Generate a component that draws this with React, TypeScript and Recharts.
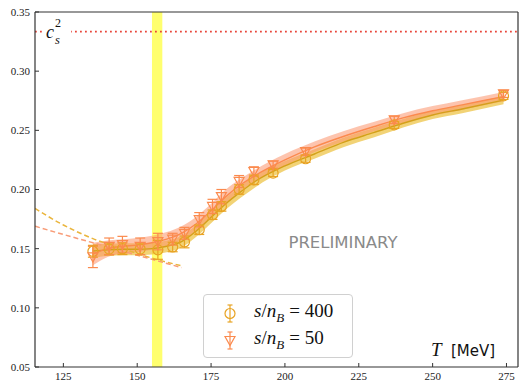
import React from "react";
import {
  Area,
  ComposedChart,
  ErrorBar,
  Line,
  ReferenceArea,
  ReferenceLine,
  Scatter,
  XAxis,
  YAxis,
} from "recharts";

const W = 519;
const H = 381;
const AXIS = "#333";
const SERIF = "'Liberation Serif', 'DejaVu Serif', serif";
const SANS = "'DejaVu Sans', sans-serif";

const GOLD = "#e8a323";
const GOLD_LINE = "#d4a01a";
const GOLD_BAND = "#ecc13c";
const ORANGE = "#fb8a4e";
const ORANGE_BAND = "#fc946c";
const DASH_GOLD = "#eab53c";
const DASH_ORANGE = "#f89c78";

// axes
const X_DOMAIN: [number, number] = [115.4, 278.9];
const Y_DOMAIN: [number, number] = [0.05, 0.35];
const xTicks = [125, 150, 175, 200, 225, 250, 275];
const yTicks = [0.05, 0.1, 0.15, 0.2, 0.25, 0.3, 0.35];

// conformal limit and pseudo-critical band
const CS2_LIMIT = 1 / 3;
const TPC_LOW = 155;
const TPC_HIGH = 158.5;

// lattice points
const temps = [135, 140.5, 145, 151, 157, 162, 166, 171, 175.5, 178.5, 184.5, 189.5, 196, 207, 237, 274];
const cs2_400 = [0.1478, 0.1497, 0.15, 0.1497, 0.149, 0.1514, 0.1557, 0.166, 0.1787, 0.1857, 0.2, 0.2082, 0.2139, 0.226, 0.2546, 0.2791];
const err_400 = [0.005, 0.005, 0.005, 0.005, 0.008, 0.004, 0.005, 0.004, 0.004, 0.004, 0.004, 0.004, 0.003, 0.003, 0.003, 0.003];
const cs2_50 = [0.143, 0.152, 0.1534, 0.152, 0.156, 0.158, 0.163, 0.1745, 0.1857, 0.194, 0.2068, 0.2152, 0.2209, 0.232, 0.2589, 0.2808];
const err_50 = [0.009, 0.007, 0.007, 0.007, 0.007, 0.005, 0.005, 0.006, 0.006, 0.006, 0.005, 0.004, 0.003, 0.003, 0.003, 0.003];

// fits (centre line and half width of the band)
const fitT = [135, 140, 145, 150, 155, 160, 165, 170, 175, 180, 185, 190, 200, 210, 220, 230, 240, 250, 260, 274];
const fit400 = [0.148, 0.149, 0.1495, 0.1495, 0.15, 0.152, 0.156, 0.165, 0.1765, 0.188, 0.198, 0.207, 0.22, 0.23, 0.24, 0.248, 0.256, 0.263, 0.268, 0.2755];
const fit400w = [0.006, 0.005, 0.005, 0.005, 0.005, 0.005, 0.005, 0.005, 0.005, 0.005, 0.005, 0.005, 0.004, 0.004, 0.004, 0.004, 0.0035, 0.0035, 0.0035, 0.0035];
const fit50 = [0.1455, 0.15, 0.152, 0.153, 0.155, 0.158, 0.163, 0.171, 0.182, 0.194, 0.204, 0.212, 0.225, 0.236, 0.245, 0.253, 0.2605, 0.2665, 0.2715, 0.2785];
const fit50w = [0.0095, 0.007, 0.006, 0.006, 0.006, 0.006, 0.006, 0.006, 0.006, 0.006, 0.005, 0.005, 0.005, 0.0045, 0.0045, 0.004, 0.004, 0.004, 0.004, 0.004];

// low-T extrapolations (dashed)
const extT = [115.4, 125, 135, 145, 155, 165];
const ext400 = [0.184, 0.17, 0.1585, 0.15, 0.142, 0.1355];
const ext50 = [0.169, 0.162, 0.155, 0.148, 0.141, 0.134];

const pts400 = temps.map((T, i) => ({ T, v: cs2_400[i], e: err_400[i] }));
const pts50 = temps.map((T, i) => ({ T, v: cs2_50[i], e: err_50[i] }));
const band400 = fitT.map((T, i) => ({ T, c: fit400[i], r: [fit400[i] - fit400w[i], fit400[i] + fit400w[i]] }));
const band50 = fitT.map((T, i) => ({ T, c: fit50[i], r: [fit50[i] - fit50w[i], fit50[i] + fit50w[i]] }));
const dash400 = extT.map((T, i) => ({ T, c: ext400[i] }));
const dash50 = extT.map((T, i) => ({ T, c: ext50[i] }));

function BottomTick({ x, y, payload }: any) {
  const ay = y - 5;
  return (
    <g>
      <line x1={x} x2={x} y1={ay} y2={ay - 4} stroke={AXIS} />
      <text x={x} y={y} dy="0.71em" textAnchor="middle" fontSize={11} fontFamily={SERIF} fill="#222">
        {payload.value}
      </text>
    </g>
  );
}

function LeftTick({ x, y, payload }: any) {
  const ax = x + 5;
  return (
    <g>
      <line x1={ax} x2={ax + 4} y1={y} y2={y} stroke={AXIS} />
      <text x={x} y={y} dy="0.355em" textAnchor="end" fontSize={11} fontFamily={SERIF} fill="#222">
        {Number(payload.value).toFixed(2)}
      </text>
    </g>
  );
}

function OpenCircle({ cx, cy }: any) {
  return <circle cx={cx} cy={cy} r={5} fill="none" stroke={GOLD} strokeWidth={1.2} />;
}

function OpenTriangle({ cx, cy }: any) {
  return (
    <polygon
      points={`${cx - 5},${cy - 4} ${cx + 5},${cy - 4} ${cx},${cy + 5}`}
      fill="none"
      stroke={ORANGE}
      strokeWidth={1.2}
    />
  );
}

function LegendLabel({ value }: { value: string }) {
  return (
    <span style={{ fontFamily: SERIF, fontSize: 19, color: "#111", whiteSpace: "nowrap" }}>
      <i>s</i>/<i>n</i>
      <sub style={{ fontSize: 13 }}>
        <i>B</i>
      </sub>
      <span style={{ padding: "0 5px" }}>=</span>
      {value}
    </span>
  );
}

function LegendBox() {
  const row = { position: "absolute" as const, left: 0, height: 24, display: "flex", alignItems: "center" };
  return (
    <div
      style={{
        position: "absolute",
        left: 203,
        top: 294,
        width: 148,
        height: 62,
        border: "1px solid #d0d0d0",
        borderRadius: 4,
        background: "rgba(255,255,255,0.85)",
      }}
    >
      <div style={{ ...row, top: 5.5 }}>
        <svg width={50} height={24}>
          <line x1={26} x2={26} y1={4} y2={21} stroke={GOLD} strokeWidth={1.2} />
          <line x1={23.5} x2={28.5} y1={4} y2={4} stroke={GOLD} strokeWidth={1.2} />
          <line x1={23.5} x2={28.5} y1={21} y2={21} stroke={GOLD} strokeWidth={1.2} />
          <circle cx={26} cy={12.5} r={5} fill="none" stroke={GOLD} strokeWidth={1.2} />
        </svg>
        <LegendLabel value="400" />
      </div>
      <div style={{ ...row, top: 33 }}>
        <svg width={50} height={24}>
          <line x1={26} x2={26} y1={4} y2={21} stroke={ORANGE} strokeWidth={1.2} />
          <line x1={23.5} x2={28.5} y1={4} y2={4} stroke={ORANGE} strokeWidth={1.2} />
          <line x1={23.5} x2={28.5} y1={21} y2={21} stroke={ORANGE} strokeWidth={1.2} />
          <polygon points="21,8.5 31,8.5 26,17.5" fill="none" stroke={ORANGE} strokeWidth={1.2} />
        </svg>
        <LegendLabel value="50" />
      </div>
    </div>
  );
}

export default function App() {
  return (
    <div style={{ position: "absolute", left: 0, top: 0, width: W, height: H, background: "#fff" }}>
      <ComposedChart width={W} height={H} margin={{ top: 12, right: 1, bottom: 0, left: 0 }}>
        <XAxis
          dataKey="T"
          type="number"
          domain={X_DOMAIN}
          ticks={xTicks}
          allowDataOverflow
          height={14}
          tickSize={0}
          tickMargin={5}
          tickLine={false}
          axisLine={{ stroke: AXIS, strokeWidth: 1.2 }}
          tick={<BottomTick />}
        />
        <XAxis
          xAxisId="top"
          orientation="top"
          mirror
          type="number"
          domain={X_DOMAIN}
          ticks={xTicks}
          allowDataOverflow
          tick={false}
          tickSize={4}
          tickLine={{ stroke: AXIS }}
          axisLine={{ stroke: AXIS, strokeWidth: 1.2 }}
        />
        <YAxis
          type="number"
          domain={Y_DOMAIN}
          ticks={yTicks}
          allowDataOverflow
          width={35}
          tickSize={0}
          tickMargin={5}
          tickLine={false}
          axisLine={{ stroke: AXIS, strokeWidth: 1.2 }}
          tick={<LeftTick />}
        />
        <YAxis
          yAxisId="right"
          orientation="right"
          mirror
          type="number"
          domain={Y_DOMAIN}
          ticks={yTicks}
          allowDataOverflow
          tick={false}
          tickSize={4}
          tickLine={{ stroke: AXIS }}
          axisLine={{ stroke: AXIS, strokeWidth: 1.2 }}
        />

        <ReferenceArea x1={TPC_LOW} x2={TPC_HIGH} fill="#ffff6e" fillOpacity={1} stroke="none" ifOverflow="hidden" />
        <ReferenceLine y={CS2_LIMIT} stroke="#e8463a" strokeWidth={1.8} strokeDasharray="1.8 3.2" />

        <Area data={band400} dataKey="r" type="monotone" fill={GOLD_BAND} fillOpacity={0.7} stroke="none" isAnimationActive={false} />
        <Area data={band50} dataKey="r" type="monotone" fill={ORANGE_BAND} fillOpacity={0.55} stroke="none" isAnimationActive={false} />

        <Line data={dash400} dataKey="c" type="monotone" stroke={DASH_GOLD} strokeWidth={1.5} strokeDasharray="5 3" dot={false} isAnimationActive={false} />
        <Line data={dash50} dataKey="c" type="monotone" stroke={DASH_ORANGE} strokeWidth={1.5} strokeDasharray="5 3" dot={false} isAnimationActive={false} />

        <Line data={band400} dataKey="c" type="monotone" stroke={GOLD_LINE} strokeWidth={1.4} dot={false} isAnimationActive={false} />
        <Line data={band50} dataKey="c" type="monotone" stroke={ORANGE} strokeWidth={1.4} dot={false} isAnimationActive={false} />

        <Scatter data={pts400} dataKey="v" shape={<OpenCircle />} isAnimationActive={false}>
          <ErrorBar dataKey="e" direction="y" width={5} stroke={GOLD} strokeWidth={1.2} />
        </Scatter>
        <Scatter data={pts50} dataKey="v" shape={<OpenTriangle />} isAnimationActive={false}>
          <ErrorBar dataKey="e" direction="y" width={5} stroke={ORANGE} strokeWidth={1.2} />
        </Scatter>
      </ComposedChart>

      <svg width={W} height={H} style={{ position: "absolute", left: 0, top: 0, pointerEvents: "none" }}>
        <rect x={42} y={17} width={29} height={29} fill="#fff" />
        <text x={46} y={37.5} fontFamily={SERIF} fontStyle="italic" fontSize={18} fill="#111">
          c
        </text>
        <text x={55} y={26.5} fontFamily={SERIF} fontSize={12} fill="#111">
          2
        </text>
        <text x={55} y={43.5} fontFamily={SERIF} fontStyle="italic" fontSize={12.5} fill="#111">
          s
        </text>
        <text x={343} y={248} textAnchor="middle" fontFamily={SANS} fontSize={16.5} fill="#8a8a8a">
          PRELIMINARY
        </text>
        <text x={431} y={356} fontFamily={SERIF} fontStyle="italic" fontSize={19} fill="#111">
          T
        </text>
        <text x={451} y={356} fontFamily={SANS} fontSize={15} fill="#111">
          [MeV]
        </text>
      </svg>

      <LegendBox />
    </div>
  );
}
